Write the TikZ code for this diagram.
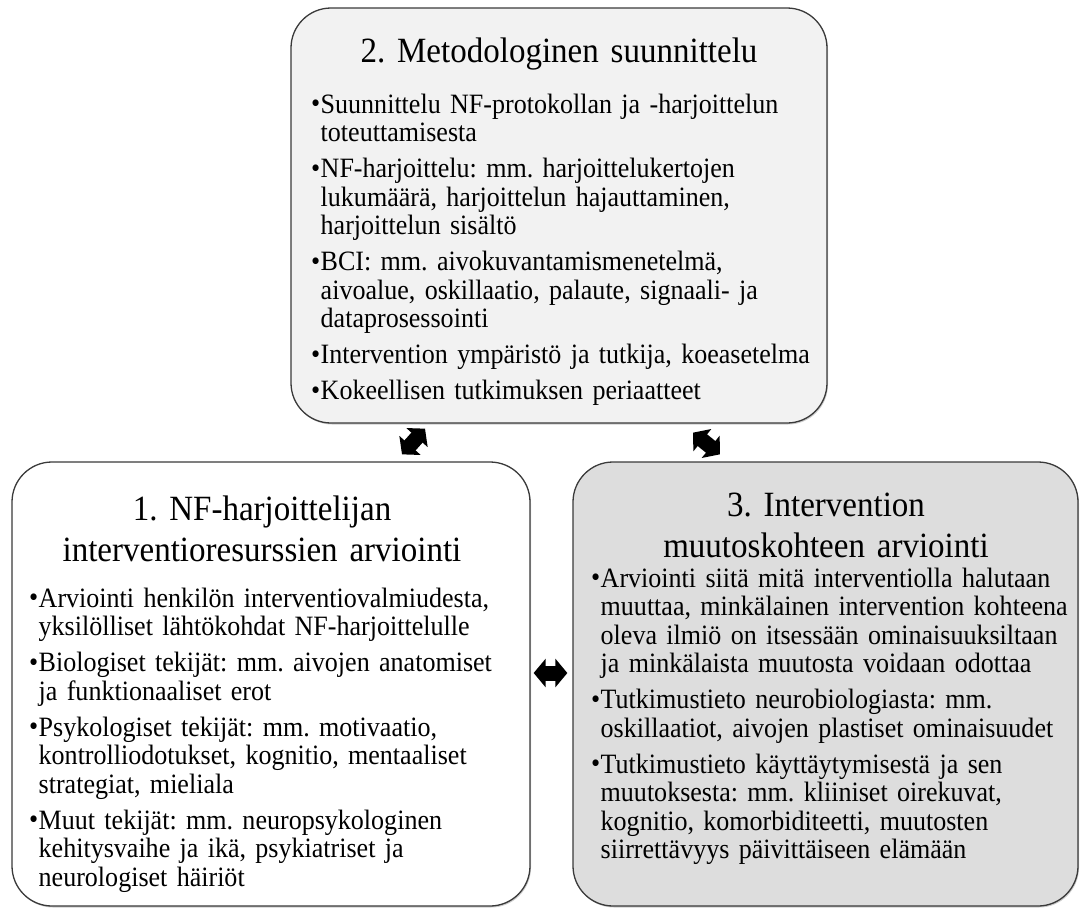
\documentclass[tikz,border=0pt]{standalone}
\usepackage{fontspec}
\setmainfont{Liberation Serif}[FakeStretch=0.93]
\usetikzlibrary{arrows.meta,shadows}
\definecolor{topgray}{HTML}{F2F2F2}
\definecolor{rightgray}{HTML}{DDDDDD}
\definecolor{edgegray}{HTML}{3A3A3A}
\tikzstyle{panel}=[draw=edgegray,line width=1.3pt,rounded corners=40pt,inner sep=0pt,
    drop shadow={shadow xshift=1pt,shadow yshift=-1.5pt,fill=black!40}]
\tikzstyle{panel title}=[inner sep=0pt,anchor=north,text width=500pt,align=center,
    font=\fontsize{35.5}{41.5}\selectfont\frenchspacing]
\tikzstyle{panel list}=[inner sep=0pt,anchor=north west,text width=520pt,align=left,
    font=\fontsize{28}{28.5}\selectfont\frenchspacing,execute at begin node={\setlength{\parskip}{7.5pt}}]
\tikzstyle{block arrow}=[draw=black,line width=15pt,
    {Triangle[length=12pt,width=28pt]}-{Triangle[length=12pt,width=28pt]}]
\newcommand{\bul}{\makebox[9.5pt][l]{\raisebox{0.5pt}{\fontsize{28}{28}\selectfont\textbullet}}}
\newcommand{\itm}[1]{\hangindent=9.5pt\hangafter=1\noindent\strut\bul{\let\\\newline#1}\par}
\begin{document}
\begin{tikzpicture}[x=1pt,y=-1pt]
    \useasboundingbox (0,0) rectangle (1081,908);
    % First we draw the three panels
    \node[panel,fill=topgray,minimum width=536pt,minimum height=415pt] (top) at (559,215.5) {};
    \node[panel,fill=white,minimum width=518pt,minimum height=444pt] (left) at (271,684) {};
    \node[panel,fill=rightgray,minimum width=505pt,minimum height=444pt] (right) at (825.5,684) {};

    % Titles of the panels
    \node[panel title] (toptitle) at (559,33) {\strut 2. Metodologinen suunnittelu};
    \node[panel title] (lefttitle) at (262,491) {\strut 1. NF-harjoittelijan\\ interventioresurssien arviointi};
    \node[panel title] (righttitle) at (826,487) {\strut 3. Intervention\\ muutoskohteen arviointi};

    % Bullet lists
    \node[panel list] (toplist) at (311,93) {%
        \itm{Suunnittelu NF-protokollan ja -harjoittelun\\ toteuttamisesta}
        \itm{NF-harjoittelu: mm. harjoittelukertojen\\ lukumäärä, harjoittelun hajauttaminen,\\ harjoittelun sisältö}
        \itm{BCI: mm. aivokuvantamismenetelmä,\\ aivoalue, oskillaatio, palaute, signaali- ja\\ dataprosessointi}
        \itm{Intervention ympäristö ja tutkija, koeasetelma}
        \itm{Kokeellisen tutkimuksen periaatteet}};
    \node[panel list] (leftlist) at (29,587) {%
        \itm{Arviointi henkilön interventiovalmiudesta,\\ yksilölliset lähtökohdat NF-harjoittelulle}
        \itm{Biologiset tekijät: mm. aivojen anatomiset\\ ja funktionaaliset erot}
        \itm{Psykologiset tekijät: mm. motivaatio,\\ kontrolliodotukset, kognitio, mentaaliset\\ strategiat, mieliala}
        \itm{Muut tekijät: mm. neuropsykologinen\\ kehitysvaihe ja ikä, psykiatriset ja\\ neurologiset häiriöt}};
    \node[panel list] (rightlist) at (591,567) {%
        \itm{Arviointi siitä mitä interventiolla halutaan\\ muuttaa, minkälainen intervention kohteena\\ oleva ilmiö on itsessään ominaisuuksiltaan\\ ja minkälaista muutosta voidaan odottaa}
        \itm{Tutkimustieto neurobiologiasta: mm.\\ oskillaatiot, aivojen plastiset ominaisuudet}
        \itm{Tutkimustieto käyttäytymisestä ja sen\\ muutoksesta: mm. kliiniset oirekuvat,\\ kognitio, komorbiditeetti, muutosten\\ siirrettävyys päivittäiseen elämään}};

    % Ends of the arrows between the panels
    \coordinate (a1) at ([xshift=131pt,yshift=7pt]left.north);
    \coordinate (b1) at ([xshift=-134pt,yshift=-5pt]top.south);
    \coordinate (a2) at ([xshift=-105.5pt,yshift=7pt]right.north);
    \coordinate (b2) at ([xshift=134pt,yshift=-9pt]top.south);
    \coordinate (c1) at ([xshift=3pt,yshift=11pt]left.east);
    \coordinate (c2) at ([xshift=-5pt,yshift=11pt]right.west);

    % Connect panels with double arrows
    \foreach \source/\dest in {a1/b1, a2/b2, c1/c2}
        \path[block arrow] (\source) -- (\dest);
\end{tikzpicture}
\end{document}
